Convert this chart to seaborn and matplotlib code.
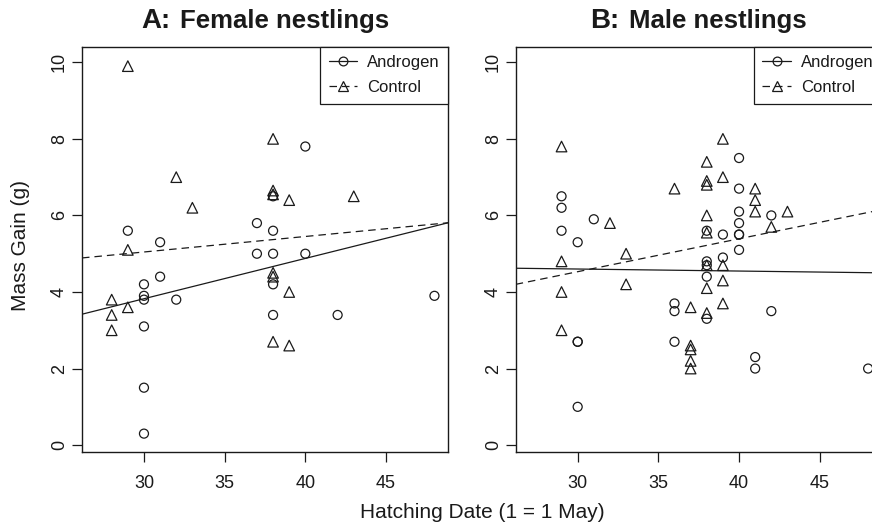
import matplotlib

matplotlib.use("Agg")
import matplotlib.pyplot as plt
import numpy as np
import pandas as pd
import seaborn as sns
from matplotlib.lines import Line2D
from matplotlib.offsetbox import AnchoredOffsetbox, HPacker, TextArea

# Panel A: female nestlings (hatching day, mass gain in g)
female_androgen_date = [29, 31, 37, 37, 38, 40, 30, 31, 30, 30, 32, 30, 30, 30,
                        40, 38, 38, 38, 48, 38, 42]
female_androgen_gain = [5.6, 5.3, 5.8, 5.0, 5.0, 5.0, 4.2, 4.4, 3.9, 3.8, 3.8, 3.1, 1.5, 0.3,
                        7.8, 6.5, 5.6, 4.2, 3.9, 3.4, 3.4]
female_control_date = [29, 32, 33, 29, 28, 29, 28, 28, 38, 38, 38, 39, 43, 38, 38, 39, 38, 39]
female_control_gain = [9.9, 7.0, 6.2, 5.1, 3.8, 3.6, 3.4, 3.0, 8.0, 6.65, 6.55, 6.4, 6.5,
                       4.5, 4.4, 4.0, 2.7, 2.6]

# Panel B: male nestlings
male_androgen_date = [29, 29, 29, 31, 30, 36, 36, 30, 30, 36, 30, 40, 40, 40, 42, 40, 38,
                      39, 40, 40, 40, 38, 38, 39, 38, 38, 42, 41, 41, 48]
male_androgen_gain = [6.5, 6.2, 5.6, 5.9, 5.3, 3.7, 3.5, 2.7, 2.7, 2.7, 1.0, 7.5, 6.7, 6.1,
                      6.0, 5.8, 5.6, 5.5, 5.5, 5.5, 5.1, 4.8, 4.7, 4.9, 4.4, 3.3, 3.5, 2.3,
                      2.0, 2.0]
male_control_date = [29, 36, 32, 33, 29, 33, 29, 29, 37, 37, 37, 37, 37, 39, 38, 38, 38, 39,
                     41, 41, 41, 43, 38, 42, 38, 38, 39, 39, 38, 39, 38]
male_control_gain = [7.8, 6.7, 5.8, 5.0, 4.8, 4.2, 4.0, 3.0, 3.6, 2.6, 2.5, 2.2, 2.0, 8.0,
                     7.4, 6.9, 6.8, 7.0, 6.7, 6.4, 6.1, 6.1, 6.0, 5.7, 5.55, 4.7, 4.7, 4.3,
                     4.1, 3.7, 3.45]

# fitted regression lines (intercept, slope) as shown in the figure
female_androgen_fit = (0.665, 0.1053)
female_control_fit = (3.83, 0.0405)
male_androgen_fit = (4.759, -0.0053)
male_control_fit = (1.95, 0.086)

panel_letters = ["A:", "B:"]
panel_titles = ["Female nestlings", "Male nestlings"]
group_labels = ["Androgen", "Control"]

sns.set_style("ticks")
plt.rcParams["font.family"] = ["Liberation Sans", "DejaVu Sans"]

INK = "#1a1a1a"
DASH = (0, (6, 4))

fig = plt.figure(figsize=(8.72, 5.28), dpi=100)
ax_a = fig.add_axes([82 / 872, 76 / 528, 366 / 872, 405 / 528])
ax_b = fig.add_axes([515.7 / 872, 76 / 528, 366 / 872, 405 / 528])

panels = [
    (ax_a, female_androgen_date, female_androgen_gain, female_control_date,
     female_control_gain, female_androgen_fit, female_control_fit),
    (ax_b, male_androgen_date, male_androgen_gain, male_control_date,
     male_control_gain, male_androgen_fit, male_control_fit),
]

for (ax, ad, ag, cd, cg, afit, cfit), letter, title in zip(panels, panel_letters, panel_titles):
    andro = pd.DataFrame({"date": ad, "gain": ag})
    ctrl = pd.DataFrame({"date": cd, "gain": cg})
    sns.scatterplot(data=andro, x="date", y="gain", marker="o", s=42,
                    facecolor="none", edgecolor=INK, linewidth=0.9, ax=ax)
    sns.scatterplot(data=ctrl, x="date", y="gain", marker="^", s=58,
                    facecolor="none", edgecolor=INK, linewidth=0.9, ax=ax)

    ax.set_xlim(26.16, 48.84)
    ax.set_ylim(-0.18, 10.4)
    xs = np.array(ax.get_xlim())
    ax.plot(xs, afit[0] + afit[1] * xs, color=INK, lw=0.9)
    ax.plot(xs, cfit[0] + cfit[1] * xs, color=INK, lw=0.9, ls=DASH)

    ax.set_xticks([30, 35, 40, 45])
    ax.set_yticks([0, 2, 4, 6, 8, 10])
    ax.tick_params(axis="both", length=7, width=0.9, color=INK, labelsize=13,
                   labelcolor=INK)
    ax.tick_params(axis="x", pad=9.5)
    ax.tick_params(axis="y", labelrotation=90, pad=3)
    for lbl in ax.get_yticklabels():
        lbl.set_va("center")
    for sp in ax.spines.values():
        sp.set_visible(True)
        sp.set_color(INK)
        sp.set_linewidth(1.0)
    ax.set_xlabel("")
    ax.set_ylabel("")

    # title: slightly bigger panel letter followed by the panel name
    head = HPacker(children=[
        TextArea(letter, textprops=dict(fontsize=20, fontweight="bold", color=INK)),
        TextArea(title, textprops=dict(fontsize=18.5, fontweight="bold", color=INK)),
    ], align="baseline", pad=0, sep=7)
    box = AnchoredOffsetbox(loc="lower center", child=head, frameon=False, pad=0,
                            borderpad=0, bbox_to_anchor=(0.5, 1.0 + 13 / 405),
                            bbox_transform=ax.transAxes)
    ax.add_artist(box)

    handles = [
        Line2D([], [], color=INK, lw=0.9, marker="o", ms=6.3, mfc="none", mew=0.9),
        Line2D([], [], color=INK, lw=0.9, ls=DASH, marker="^", ms=7.2, mfc="none", mew=0.9),
    ]
    leg = ax.legend(handles, group_labels, loc="upper right", borderaxespad=0,
                    fontsize=12, frameon=True, fancybox=False, framealpha=1,
                    edgecolor=INK, handlelength=1.7, handletextpad=0.6,
                    labelspacing=0.6, borderpad=0.5)
    leg.get_frame().set_linewidth(0.9)
    for t in leg.get_texts():
        t.set_color(INK)

fig.text((82 + 881.7) / 2 / 872, 1 - 513 / 528, "Hatching Date (1 = 1 May)",
         ha="center", va="center", fontsize=15, color=INK)
fig.text(20 / 872, 1 - 246 / 528, "Mass Gain (g)", rotation=90,
         ha="center", va="center", fontsize=15, color=INK)

fig.savefig("out.png", dpi=100)
